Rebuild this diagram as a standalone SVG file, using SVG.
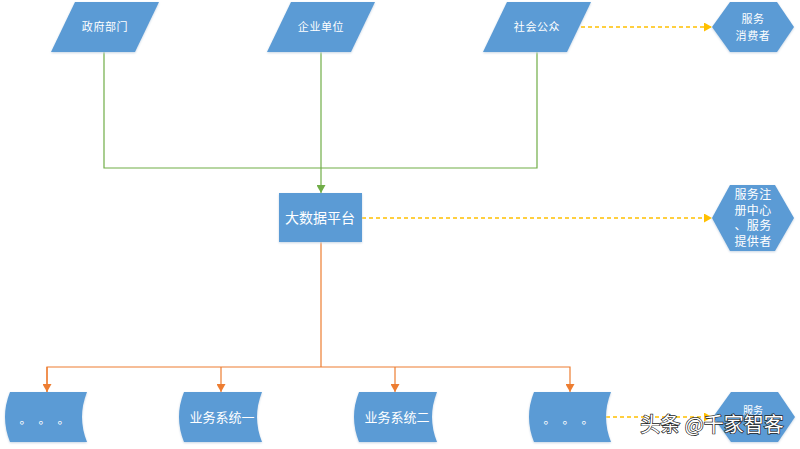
<svg xmlns="http://www.w3.org/2000/svg" width="800" height="449" viewBox="0 0 800 449">
<defs>
<marker id="g" markerUnits="userSpaceOnUse" markerWidth="9" markerHeight="9" refX="8" refY="4.5" orient="auto"><path d="M0 0L8 4.5L0 9Z" fill="#70ad47"/></marker>
<marker id="o" markerUnits="userSpaceOnUse" markerWidth="9" markerHeight="9" refX="8" refY="4.5" orient="auto"><path d="M0 0L8 4.5L0 9Z" fill="#ed7d31"/></marker>
<marker id="y" markerUnits="userSpaceOnUse" markerWidth="9" markerHeight="9" refX="8" refY="4.5" orient="auto"><path d="M0 0L8 4.5L0 9Z" fill="#ffc000"/></marker>
</defs>
<style>
.s{fill:#5b9bd5;filter:drop-shadow(0 1px 1px #c9d6e4)}
text{font-family:"Noto Sans CJK SC","Liberation Sans",sans-serif;fill:#fff;text-anchor:middle}
.t10{font-size:10px}
.t11{font-size:11px;letter-spacing:.6px}
.t12{font-size:12px;letter-spacing:.3px}
.t13{font-size:13px}
.t14{font-size:14px}
.dots{font-size:12px;text-anchor:start}
.gl{fill:none;stroke:#70ad47;stroke-width:1.2}
.ol{fill:none;stroke:#ed7d31;stroke-width:1.2}
.yl{fill:none;stroke:#ffc000;stroke-width:1.5;stroke-dasharray:4 3}
.wm{font-size:20px;fill:#fff;stroke:#222;stroke-width:1.4px;paint-order:stroke}
</style>
<rect width="800" height="449" fill="#fff"/>
<g id="connectors">
<path class="gl" d="M104 52V168H537V52"/>
<path class="gl" d="M321 52V193" marker-end="url(#g)"/>
<path class="ol" d="M321 242V367"/>
<path class="ol" d="M47 392V367H570V392" marker-end="url(#o)"/>
<path class="ol" d="M47 367V392" marker-end="url(#o)"/>
<path class="ol" d="M221 367V392" marker-end="url(#o)"/>
<path class="ol" d="M395 367V392" marker-end="url(#o)"/>
<path class="yl" d="M567 27H712" marker-end="url(#y)"/>
<path class="yl" d="M362 218H712" marker-end="url(#y)"/>
<path class="yl" d="M606 417H712" marker-end="url(#y)"/>
</g>
<g id="n1"><path class="s" d="M75 2H159L135 52H51Z"/><text class="t11" x="105" y="31">政府部门</text></g>
<g id="n2"><path class="s" d="M291 2H375L351 52H267Z"/><text class="t11" x="321" y="31">企业单位</text></g>
<g id="n3"><path class="s" d="M507 2H591L567 52H483Z"/><text class="t11" x="537" y="31">社会公众</text></g>
<g id="n4"><path class="s" d="M730 2H777L794 27L777 52H730L712 27Z"/><text class="t11" x="753" y="23">服务</text><text class="t11" x="753" y="40">消费者</text></g>
<g id="n5"><rect class="s" x="279" y="193" width="83" height="49"/><text class="t14" x="320" y="223">大数据平台</text></g>
<g id="n6"><path class="s" d="M730 185H775L794 218L775 251H730L712 218Z"/><text class="t12" x="753" y="199">服务注</text><text class="t12" x="753" y="214.500">册中心</text><text class="t12" x="753" y="230">、服务</text><text class="t12" x="753" y="245.500">提供者</text></g>
<g id="n7"><path class="s" d="M10 392H87Q77 417 87 442H10Q0 417 10 392Z"/><text class="dots" x="19.500 38.500 57.500" y="424">。。。</text></g>
<g id="n8"><path class="s" d="M184 392H262Q252 417 262 442H184Q174 417 184 392Z"/><text class="t13" x="222" y="422">业务系统一</text></g>
<g id="n9"><path class="s" d="M359 392H437Q427 417 437 442H359Q349 417 359 392Z"/><text class="t13" x="397" y="422">业务系统二</text></g>
<g id="n10"><path class="s" d="M534 392H611Q601 417 611 442H534Q524 417 534 392Z"/><text class="dots" x="543.500 562.500 581.500" y="424">。。。</text></g>
<g id="n11"><path class="s" d="M731 392H778L795 417L778 442H731L713 417Z"/><text class="t10" x="753" y="414">服务</text></g>
<text class="wm" x="712" y="432">头条 @千家智客</text>
</svg>
